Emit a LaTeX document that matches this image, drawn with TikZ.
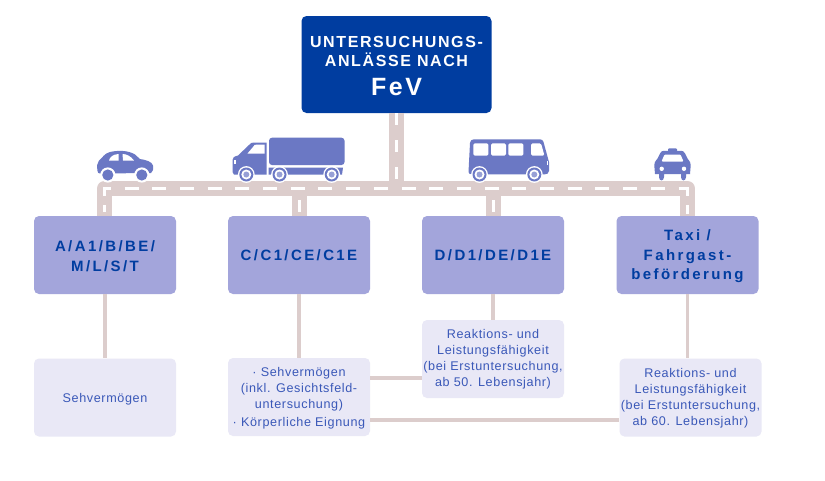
\documentclass[tikz,border=0pt]{standalone}
\usepackage{fontspec}
\setmainfont{Liberation Sans}
\newfontfamily\signfont[LetterSpace=10]{Liberation Sans}
\newfontfamily\classfont[LetterSpace=16]{Liberation Sans}
\newfontfamily\smallfont[LetterSpace=5]{Liberation Sans}
\definecolor{signblue}{HTML}{003DA0}
\definecolor{classblue}{HTML}{A3A5DB}
\definecolor{paleblue}{HTML}{E9E8F6}
\definecolor{roadtone}{HTML}{DCCDCC}
\definecolor{vehicle}{HTML}{6B78C4}
\definecolor{textblue}{HTML}{3A58B8}
\tikzset{
  sign/.style={fill=signblue,rounded corners=5pt,minimum width=190pt,minimum height=97pt,text=white,align=center,inner sep=0pt,font=\signfont\bfseries\fontsize{16}{19}\selectfont},
  classbox/.style={fill=classblue,rounded corners=5pt,minimum width=142pt,minimum height=78pt,text=signblue,align=center,inner sep=0pt,font=\classfont\bfseries\fontsize{15}{19.5}\selectfont},
  detailbox/.style={fill=paleblue,rounded corners=5pt,minimum width=142pt,minimum height=78pt,text=textblue,align=center,inner sep=0pt,font=\smallfont\fontsize{12.6}{16}\selectfont},
  road/.style={draw=roadtone,line width=15pt,line join=round},
  laneline/.style={draw=white,line width=3pt},
  link/.style={draw=roadtone,line width=3.2pt},
  car/.style={fill=vehicle,draw=none},
  pane/.style={fill=white,draw=none},
}
% wheel with a white halo, a blue tyre and a blue hub
\newcommand{\roadwheel}[2]{%
  \fill[white] (#1,#2) circle (8.4pt);
  \fill[vehicle] (#1,#2) circle (7pt);
  \fill[white] (#1,#2) circle (5pt);
  \fill[vehicle!70!white] (#1,#2) circle (3pt);
}
% invisible strut that sets the height of a first text line
\newcommand{\firstline}[1]{\rule{0pt}{#1pt}}
\begin{document}
\begin{tikzpicture}[x=1pt,y=-1pt]
\useasboundingbox (0,0) rectangle (825,480);
\fill[white] (0,0) rectangle (825,480);

% named anchors of the road network
\coordinate (cornerL) at (104.5,188.5);
\coordinate (cornerR) at (687.5,188.5);
\coordinate (joinS) at (396.5,188.5);
\coordinate (joinB) at (299,188.5);
\coordinate (joinC) at (493,188.5);

% headline sign, licence classes and their examinations
\node[sign] (fev) at (396.5,64.5) {\firstline{15.2}UNTERSUCHUNGS-\\ANLÄSSE NACH\\[10pt]{\fontsize{25}{25}\selectfont FeV}};
\node[classbox] (clA) at (105,255) {\firstline{12.8}A/A1/B/BE/\\M/L/S/T};
\node[classbox] (clC) at (299,255) {C/C1/CE/C1E};
\node[classbox] (clD) at (493,255) {D/D1/DE/D1E};
\node[classbox] (clT) at (687.5,255) {\firstline{13.8}Taxi /\\Fahrgast-\\beförderung};
\node[detailbox] (dA) at (105,397.5) {\firstline{12}Sehvermögen};
\node[detailbox] (dC) at (299,397) {\firstline{12.2}· Sehvermögen\\(inkl. Gesichtsfeld-\\untersuchung)\\[2pt]· Körperliche Eignung};
\node[detailbox] (dD) at (493,359) {\firstline{10}Reaktions- und\\Leistungsfähigkeit\\(bei Erstuntersuchung,\\ab 50. Lebensjahr)};
\node[detailbox] (dT) at (690.5,397.5) {\firstline{11.3}Reaktions- und\\Leistungsfähigkeit\\(bei Erstuntersuchung,\\ab 60. Lebensjahr)};

% road surface
\draw[road] (clA.north -| cornerL) -- (cornerL) -- (cornerR) -- (clT.north -| cornerR);
\draw[road] (fev.south) -- (joinS);
\draw[road] (clC.north) -- (joinB);
\draw[road] (clD.north) -- (joinC);

% lane markings
\draw[laneline,dash pattern=on 14pt off 13.7pt,dash phase=7.7pt] (cornerL) -- (cornerR);
\draw[laneline] (104.5,196) -- (104.5,187);
\draw[laneline] (687.5,196) -- (687.5,187);
\draw[laneline] (104.5,205) -- (104.5,212);
\draw[laneline] (687.5,205) -- (687.5,214);
\draw[laneline] (299,200) -- (299,212);
\draw[laneline] (493,200) -- (493,212);
\draw[laneline,dash pattern=on 12pt off 15pt] (fev.south) -- (396.5,181);

% thin links between class boxes and examinations
\draw[link] (clA.south) -- (dA.north);
\draw[link] (clC.south) -- (dC.north);
\draw[link] (clD.south) -- (dD.north);
\draw[link] (clT.south) -- (clT.south |- dT.north);
\draw[link] (dC.east |- 0,378) -- (dD.west |- 0,378);
\draw[link] (dC.east |- 0,420) -- (dT.west |- 0,420);

% car
\fill[car] (97.5,171) .. controls (96.8,166) and (97,163) .. (99,160.5)
  .. controls (103,157.5) and (104,153.5) .. (110,152)
  .. controls (118,150.2) and (128,150.2) .. (135,154.5)
  -- (140,159) .. controls (146,160) and (152,161.5) .. (153,165.5)
  .. controls (153.5,169) and (153,172) .. (151,173)
  -- (100,173.5) .. controls (98.5,173.5) and (97.5,172.5) .. (97.5,171) -- cycle;
\fill[pane] (109,160.5) .. controls (110,157) and (112.5,154.5) .. (118.5,154) -- (118.5,160.5) -- cycle;
\fill[pane] (122.5,154) .. controls (127,154) and (131,156.5) .. (134,160.5) -- (123,160.5) -- cycle;
\fill[white] (107.8,175) circle (7.6pt);
\fill[vehicle] (107.8,175) circle (5.6pt);
\fill[white] (141.8,175) circle (7.6pt);
\fill[vehicle] (141.8,175) circle (5.6pt);

% truck
\fill[car] (232.5,172) -- (232.5,160) .. controls (232.5,157.5) and (234,156.5) .. (238,155.5)
  -- (249,145) .. controls (250.5,143) and (252,142.5) .. (254,142.5) -- (266.5,142.5) -- (266.5,174.5) -- (234,174.5) -- cycle;
\fill[pane] (247.5,153.5) -- (253,147) .. controls (254,145) and (255,144.5) .. (257,144.5) -- (264.5,144.5) -- (264.5,153.5) -- cycle;
\fill[pane] (234,160) rectangle (235.5,164);
\fill[car,rounded corners=3pt] (269,137.7) rectangle (344.5,165);
\fill[car] (268.5,167.5) -- (343,167.5) -- (342,174.5) -- (268.5,174.5) -- cycle;
\roadwheel{246.3}{174.5}
\roadwheel{279.5}{174.5}
\roadwheel{331.7}{174.5}

% bus
\fill[car] (468.5,172) -- (470,143) .. controls (470.2,140.5) and (471.5,139.5) .. (474,139.3)
  -- (540,139.3) .. controls (542,139.3) and (543,140.5) .. (543.5,142)
  -- (549,162) -- (549,171) .. controls (548.5,173.5) and (547,174.3) .. (545,174.3)
  -- (472,174.3) .. controls (470,174.3) and (468.5,173.5) .. (468.5,172) -- cycle;
\foreach \xa/\xb in {473.3/488.3,491/506,508.3/523.3}{
  \fill[pane,rounded corners=1.5pt] (\xa,143.3) rectangle (\xb,155.7);}
\fill[pane,rounded corners=1.5pt] (531,143.3) -- (541,143.3) -- (544.5,155.7) -- (531,155.7) -- cycle;
\fill[pane] (546.5,161) rectangle (548,165);
\roadwheel{479.5}{174.5}
\roadwheel{534.3}{174.5}

% taxi
\fill[car,rounded corners=1pt] (668,148.3) rectangle (677,152.5);
\fill[car] (654.5,168) .. controls (654,163) and (655,160.5) .. (657.5,158.5)
  -- (660,153.5) .. controls (661,151.5) and (662,150.8) .. (664,150.8) -- (681,150.8)
  .. controls (683,150.8) and (684,151.5) .. (685,153.5)
  -- (687.5,158.5) .. controls (690,160.5) and (691,163) .. (690.5,168)
  -- (690,174) -- (686,174) -- (686,177) .. controls (686,181.5) and (681,181.5) .. (681,177) -- (681,174)
  -- (664,174) -- (664,177) .. controls (664,181.5) and (659,181.5) .. (659,177) -- (659,174)
  -- (655,174) -- cycle;
\fill[pane,rounded corners=1pt] (661.5,161.5) -- (664.5,154.5) -- (680.5,154.5) -- (683.5,161.5) -- cycle;
\fill[pane] (661.7,168.8) circle (2.2pt);
\fill[pane] (684,168.8) circle (2.2pt);
\end{tikzpicture}
\end{document}
